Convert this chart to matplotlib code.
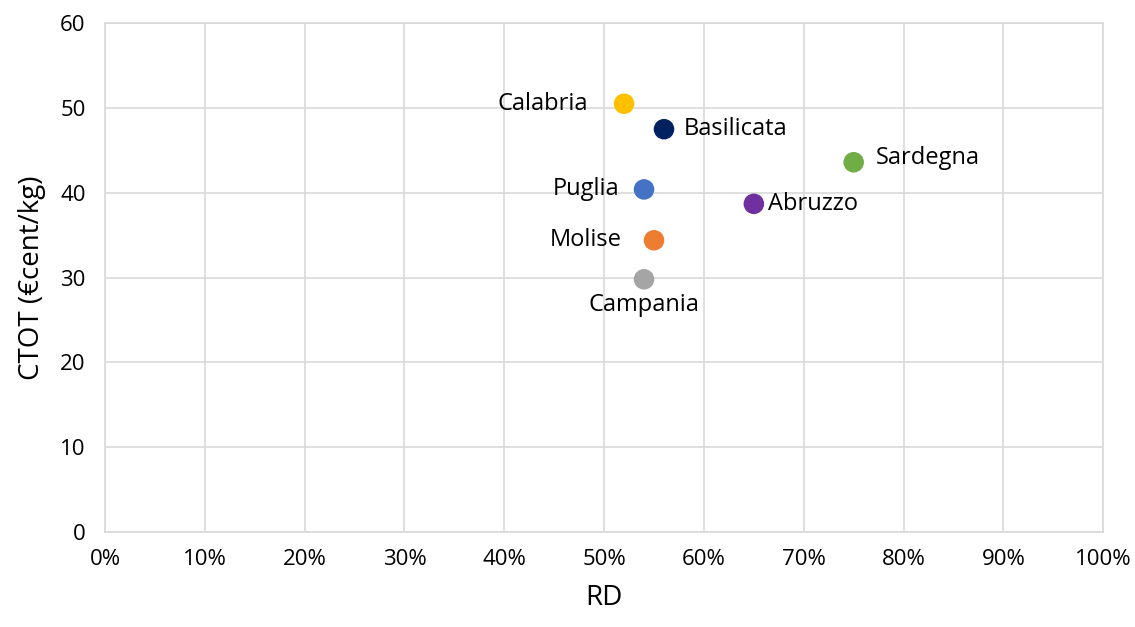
import matplotlib.pyplot as plt
from matplotlib.ticker import PercentFormatter

plt.rcParams['font.family'] = ['Open Sans', 'DejaVu Sans']

regions = ['Calabria', 'Basilicata', 'Sardegna', 'Puglia', 'Abruzzo', 'Molise', 'Campania']
rd = [0.52, 0.56, 0.75, 0.54, 0.65, 0.55, 0.54]
ctot = [50.5, 47.5, 43.6, 40.4, 38.7, 34.4, 29.8]
colors = ['#FFC000', '#002060', '#70AD47', '#4472C4', '#7030A0', '#ED7D31', '#A5A5A5']

# label offsets (points) relative to each marker
offsets = [(-26, 0), (14, 0), (16, 3), (-18, 0), (10, 0), (-23, 0), (0, -10)]

fig = plt.figure(figsize=(11.35, 6.27), dpi=100)
ax = fig.add_axes([0.0925, 0.1515, 0.8795, 0.8115])

ax.scatter(rd, ctot, s=190, c=colors, zorder=3)

for name, x, y, (dx, dy) in zip(regions, rd, ctot, offsets):
    if dx < 0:
        ha, va = 'right', 'center'
    elif dx > 0:
        ha, va = 'left', 'center'
    else:
        ha, va = 'center', 'top'
    ax.annotate(name, (x, y), xytext=(dx, dy), textcoords='offset points',
                ha=ha, va=va, fontsize=17)

ax.set_xlim(0, 1)
ax.set_ylim(0, 60)
ax.set_xticks([i / 10 for i in range(11)])
ax.set_yticks(range(0, 61, 10))
ax.xaxis.set_major_formatter(PercentFormatter(1.0, decimals=0))
ax.grid(True, color='#D9D9D9', linewidth=1.2, zorder=0)
ax.set_axisbelow(True)
for s in ax.spines.values():
    s.set_color('#D9D9D9')
    s.set_linewidth(1.2)
ax.tick_params(length=0, labelsize=16, colors='black')
ax.tick_params(axis='x', pad=12)
ax.tick_params(axis='y', pad=14)
ax.set_xlabel('RD', fontsize=20, labelpad=10)
ax.set_ylabel('CTOT (€cent/kg)', fontsize=20, labelpad=10)

fig.savefig('out.png', dpi=100)
